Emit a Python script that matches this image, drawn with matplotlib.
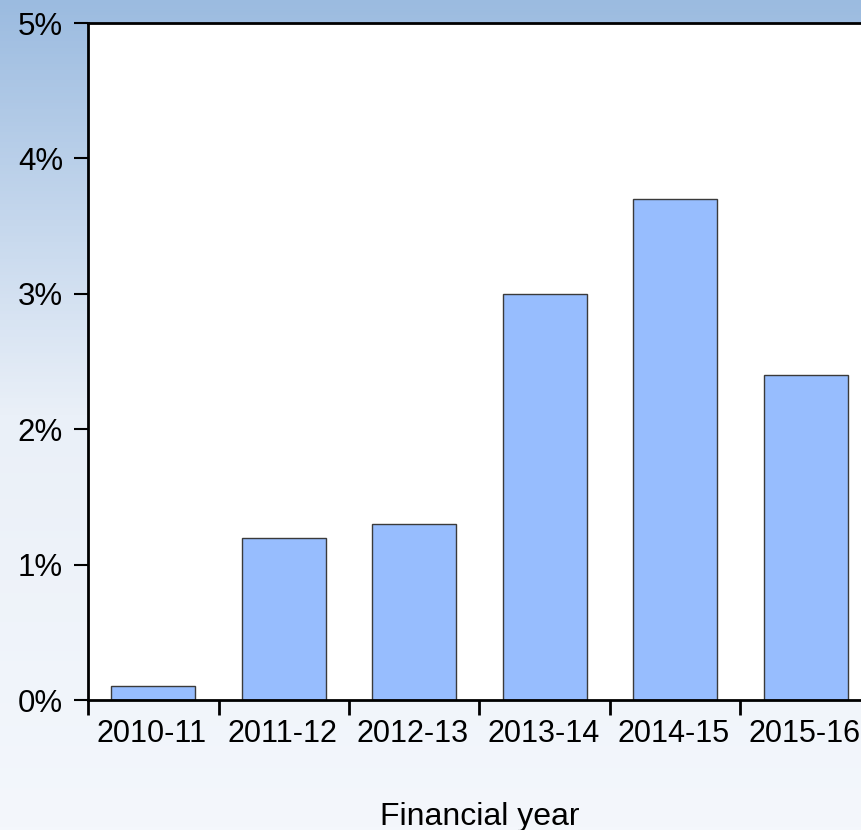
import numpy as np
import matplotlib.pyplot as plt
from matplotlib.colors import LinearSegmentedColormap

# Datos
years = ['2010-11', '2011-12', '2012-13', '2013-14', '2014-15', '2015-16']
values = [0.1, 1.2, 1.3, 3.0, 3.7, 2.4]
yticks = [0, 1, 2, 3, 4, 5]

plt.rcParams['font.family'] = ['Liberation Sans', 'DejaVu Sans']

W, H = 861, 830
fig = plt.figure(figsize=(W / 100, H / 100), dpi=100)

# Fondo degradado
bg = fig.add_axes([0, 0, 1, 1], zorder=0)
cmap = LinearSegmentedColormap.from_list('bg', ['#f4f7fc', '#eaf0f8', '#9bbbe0'])
grad = np.linspace(0, 1, 256).reshape(-1, 1)
bg.imshow(grad, aspect='auto', cmap=cmap, origin='lower', extent=[0, 1, 0, 1])
bg.axis('off')

# Ejes (se salen por la derecha)
left, right, top, bottom = 88, 871, 23, 700
ax = fig.add_axes([left / W, (H - bottom) / H, (right - left) / W, (bottom - top) / H], zorder=1)
ax.set_facecolor('white')

x = np.arange(len(years))
ax.bar(x, values, width=0.645, color='#97bdfe', edgecolor='#3a3a3a', linewidth=1)

ax.set_xlim(-0.5, len(years) - 0.5)
ax.set_ylim(0, 5)
ax.set_yticks(yticks)
ax.set_yticklabels([f'{v}%' for v in yticks], fontsize=22.5)
ax.set_xticks(x - 0.01)
ax.set_xticklabels(years, fontsize=22)
ax.tick_params(axis='x', length=0, pad=14)
ax.set_xticks(np.arange(-0.5, len(years)), minor=True)
ax.tick_params(axis='x', which='minor', direction='out', length=11, width=2)
ax.tick_params(axis='y', direction='out', length=10, width=1.5, pad=8)

for s in ['left', 'bottom', 'top', 'right']:
    ax.spines[s].set_linewidth(2)
    ax.spines[s].set_color('black')

ax.set_xlabel('Financial year', fontsize=23, labelpad=38)

fig.savefig('out.png', dpi=100)
